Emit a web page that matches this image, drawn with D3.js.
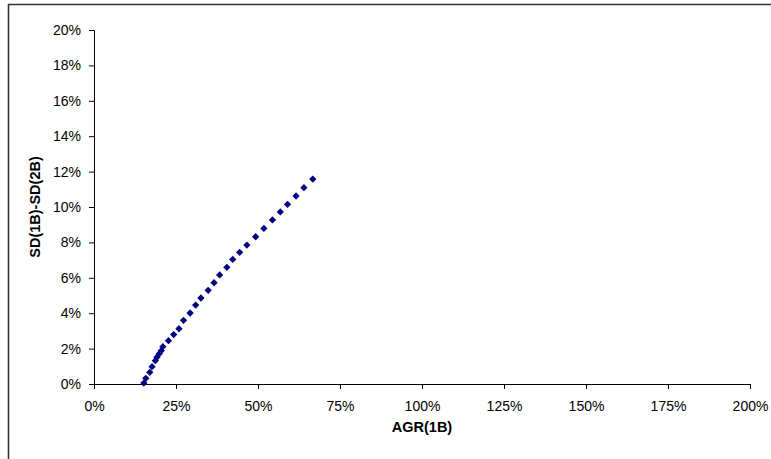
<!DOCTYPE html>
<html>
<head>
<meta charset="utf-8">
<script src="https://cdn.jsdelivr.net/npm/d3@7"></script>
<style>
  html, body { margin: 0; padding: 0; background: #fff; }
  svg { display: block; }
  text { font-family: "Liberation Sans", Arial, sans-serif; fill: #000; }
</style>
</head>
<body>
<svg id="chart" width="771" height="459"></svg>
<script>
// AGR(1B) on x, SD(1B)-SD(2B) on y, both as fractions
const agr = [0.152, 0.158, 0.170, 0.177, 0.187, 0.192, 0.199, 0.205, 0.210, 0.227, 0.243,
             0.259, 0.273, 0.293, 0.310, 0.326, 0.348, 0.366, 0.383, 0.405, 0.423, 0.444,
             0.466, 0.493, 0.518, 0.544, 0.568, 0.590, 0.616, 0.640, 0.667];
const sdDiff = [0.0005, 0.0032, 0.0066, 0.0098, 0.0132, 0.0151, 0.0171, 0.0188, 0.0211, 0.0245, 0.0279,
                0.0312, 0.0360, 0.0401, 0.0446, 0.0486, 0.0529, 0.0572, 0.0616, 0.0659, 0.0704, 0.0744,
                0.0785, 0.0832, 0.0879, 0.0927, 0.0972, 0.1015, 0.1062, 0.1109, 0.1158];
const xTicks = [0, 0.25, 0.5, 0.75, 1, 1.25, 1.5, 1.75, 2];
const yTicks = [0, 0.02, 0.04, 0.06, 0.08, 0.10, 0.12, 0.14, 0.16, 0.18, 0.20];
const xTitle = "AGR(1B)";
const yTitle = "SD(1B)-SD(2B)";

const svg = d3.select("#chart");

// chart area frame (top and left edges visible)
svg.append("path")
  .attr("d", "M8.5,459 L8.5,4.5 L771,4.5")
  .attr("fill", "none")
  .attr("stroke", "#333")
  .attr("stroke-width", 1.6);

const x = d3.scaleLinear().domain([0, 2]).range([94, 750]);
const y = d3.scaleLinear().domain([0, 0.2]).range([384, 30]);

const pct = d3.format(".0%");

const xAxis = svg.append("g")
  .attr("transform", `translate(0,${y(0)})`)
  .call(d3.axisBottom(x).tickValues(xTicks).tickFormat(pct).tickSize(5).tickPadding(12));
const yAxis = svg.append("g")
  .attr("transform", `translate(${x(0)},0)`)
  .call(d3.axisLeft(y).tickValues(yTicks).tickFormat(pct).tickSize(5).tickPadding(8));

[xAxis, yAxis].forEach(g => {
  g.attr("font-size", null);
  g.select(".domain").attr("stroke", "#000").attr("stroke-width", 1);
  g.selectAll(".tick line").attr("stroke", "#000");
  g.selectAll("text")
    .style("font-size", "14px")
    .style("font-family", "Liberation Sans, Arial, sans-serif");
});

// data markers: navy diamonds
const diamond = d3.symbol().type(d3.symbolDiamond2).size(34);
svg.append("g")
  .selectAll("path")
  .data(agr.map((v, i) => [v, sdDiff[i]]))
  .join("path")
  .attr("transform", d => `translate(${x(d[0])},${y(d[1])})`)
  .attr("d", diamond)
  .attr("fill", "#000080");

svg.append("text")
  .attr("x", (x(0) + x(2)) / 2)
  .attr("y", 432)
  .attr("text-anchor", "middle")
  .style("font-size", "14.5px")
  .style("font-weight", "bold")
  .text(xTitle);

svg.append("text")
  .attr("transform", `translate(40,${(y(0) + y(0.2)) / 2}) rotate(-90)`)
  .attr("text-anchor", "middle")
  .style("font-size", "14.5px")
  .style("font-weight", "bold")
  .text(yTitle);
</script>
</body>
</html>
